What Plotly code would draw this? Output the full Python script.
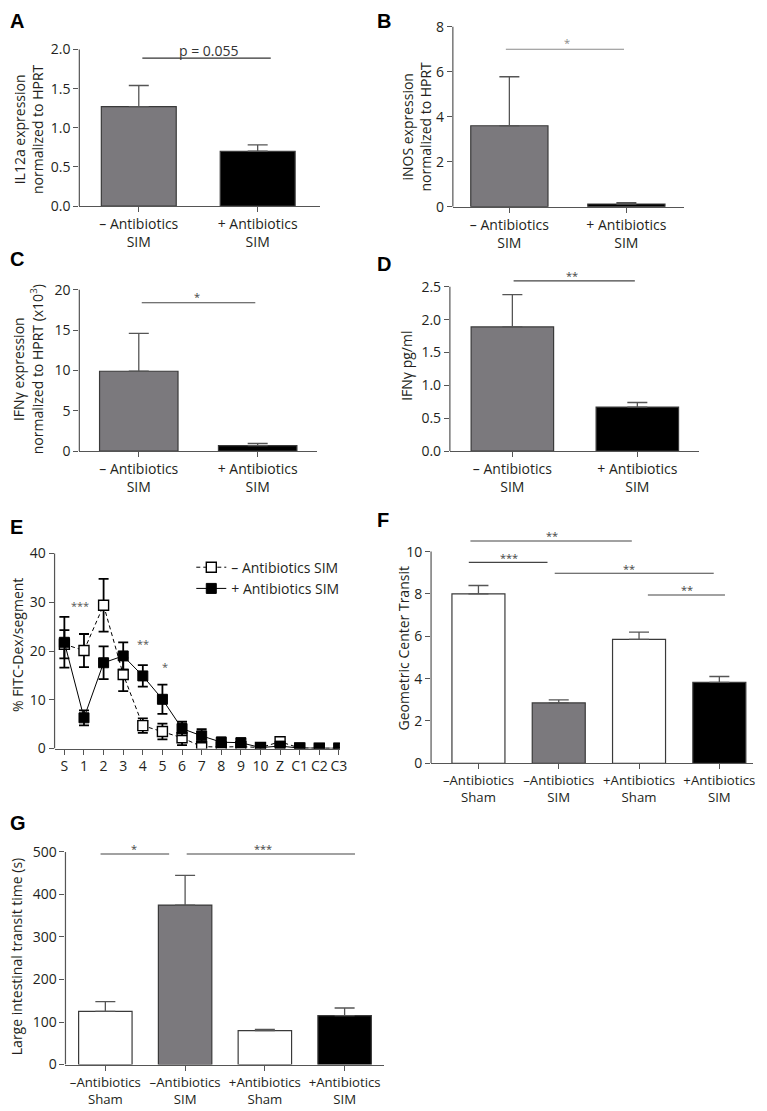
import plotly.graph_objects as go

# The page body has an 8px default margin; positions below are given in
# window pixels and converted to paper fractions of the (smaller) figure.
OFF = 8
WIN_W, WIN_H = 767, 1111
W, H = WIN_W - OFF, WIN_H - OFF
FONT = "Open Sans"
TXT = "#231f20"
AX = "#555555"
GREY = "#7b797d"

# ---------------- data ----------------
two_cats = ["– Antibiotics<br>SIM", "+ Antibiotics<br>SIM"]
two_colors = [GREY, "#000000"]

il12a_mean = [1.27, 0.70]
il12a_sem = [0.27, 0.08]

inos_mean = [3.60, 0.12]
inos_sem = [2.18, 0.06]

ifng_mrna_mean = [9.9, 0.70]
ifng_mrna_sem = [4.7, 0.25]

ifng_prot_mean = [1.89, 0.67]
ifng_prot_sem = [0.49, 0.07]

segments = ["S", "1", "2", "3", "4", "5", "6", "7", "8", "9", "10", "Z", "C1", "C2", "C3"]
fitc_minus_mean = [21.4, 20.1, 29.4, 15.2, 4.7, 3.5, 2.2, 0.4, 0.3, 0.4, 0.2, 1.4, 0.1, 0.05, 0.05]
fitc_minus_sem = [2.9, 3.4, 5.4, 3.4, 1.5, 1.6, 1.5, 0.4, 0.3, 0.3, 0.2, 0.3, 0.1, 0.05, 0.05]
fitc_plus_mean = [21.8, 6.3, 17.6, 19.0, 14.9, 10.1, 4.1, 2.6, 1.3, 1.2, 0.2, 0.5, 0.1, 0.05, 0.05]
fitc_plus_sem = [5.2, 1.55, 3.35, 2.8, 2.2, 3.0, 1.4, 1.4, 1.0, 0.9, 0.4, 0.3, 0.1, 0.05, 0.05]

four_cats = ["–Antibiotics<br>Sham", "–Antibiotics<br>SIM", "+Antibiotics<br>Sham", "+Antibiotics<br>SIM"]
four_colors = ["#ffffff", GREY, "#ffffff", "#000000"]

gc_mean = [8.0, 2.85, 5.85, 3.82]
gc_sem = [0.40, 0.15, 0.35, 0.28]

lit_mean = [125, 375, 80, 115]
lit_sem = [23, 70, 3, 18]

# ---------------- layout helpers ----------------
fig = go.Figure()
layout = dict(
    width=W, height=H, margin=dict(l=0, r=0, t=0, b=0),
    paper_bgcolor="white", plot_bgcolor="white",
    font=dict(family=FONT, size=14, color=TXT),
    showlegend=True,
)
shapes = []
annotations = []


def px(x):
    return (x - OFF) / W


def py(y):
    return 1 - (y - OFF) / H


def ref(n):
    return ("" if n == 1 else str(n))


def setup(n, x0, x1, y0, yt, T, rmax, dtick, xr, fmt, xfont=14):
    s = (y0 - yt) / T
    ytop = y0 - rmax * s
    layout["xaxis" + ref(n)] = dict(
        domain=[px(x0), px(x1)], range=xr, type="category",
        anchor="y" + ref(n), showline=True, linecolor=AX, linewidth=1.2,
        ticks="outside", ticklen=5, tickcolor=AX, tickwidth=1.2,
        showgrid=False, zeroline=False, fixedrange=True,
        tickfont=dict(family=FONT, size=xfont, color=TXT),
    )
    layout["yaxis" + ref(n)] = dict(
        domain=[py(y0), py(ytop)], range=[0, rmax],
        anchor="x" + ref(n), showline=False, dtick=dtick, tick0=0,
        tickformat=fmt, ticks="outside", ticklen=5, tickcolor=AX, tickwidth=1.2,
        showgrid=False, zeroline=False, fixedrange=True,
        tickfont=dict(family=FONT, size=14, color=TXT),
    )
    shapes.append(dict(type="line", xref="x" + ref(n) + " domain", yref="y" + ref(n),
                       x0=0, x1=0, y0=0, y1=T, line=dict(color=AX, width=1.2), layer="above"))


def bars(n, cats, mean, sem, colors, width):
    fig.add_trace(go.Bar(
        x=cats, y=mean, width=width, xaxis="x" + ref(n), yaxis="y" + ref(n),
        marker=dict(color=colors, line=dict(color="#3a3a3a", width=1.2)),
        error_y=dict(type="data", array=sem, arrayminus=[0] * len(sem), symmetric=False,
                     color=AX, thickness=1.3, width=10),
        showlegend=False, hoverinfo="skip",
    ))


def sig(n, xa, xb, y, label, ty, tx=None, color="#444444", size=11):
    shapes.append(dict(type="line", xref="x" + ref(n), yref="y" + ref(n),
                       x0=xa, x1=xb, y0=y, y1=y, line=dict(color=color, width=1.1)))
    if tx is None:
        tx = (xa + xb) / 2
    annotations.append(dict(xref="x" + ref(n), yref="y" + ref(n), x=tx, y=ty, text=label,
                            showarrow=False, font=dict(family=FONT, size=size, color=color)))


def ytitle(xpx, ypx, text, size=14):
    annotations.append(dict(xref="paper", yref="paper", x=px(xpx), y=py(ypx), text=text,
                            textangle=-90, showarrow=False, xanchor="center", yanchor="middle",
                            font=dict(family=FONT, size=size, color=TXT)))


def letter(xpx, cap_top, text):
    # annotation box top sits about 8px above the capital's top
    annotations.append(dict(xref="paper", yref="paper", x=px(xpx), y=py(cap_top - 8),
                            text="<b>%s</b>" % text, showarrow=False,
                            xanchor="left", yanchor="top",
                            font=dict(family="Liberation Sans", size=20, color="#000000")))


# ---------------- A ----------------
setup(1, 80, 323, 201, 42, 2.0, 2.1, 0.5, [-0.5, 1.525], ".1f")
bars(1, two_cats, il12a_mean, il12a_sem, two_colors, 0.63)
sig(1, 0.03, 1.11, 1.89, "p = 0.055", 1.985, tx=0.59, color="#333333", size=14)
ytitle(28, 123, "IL12a expression<br>normalized to HPRT")
letter(8, 8, "A")

# ---------------- B ----------------
setup(2, 457, 690, 201.7, 19, 8, 8.1, 2, [-0.483, 1.49], "d")
bars(2, two_cats, inos_mean, inos_sem, two_colors, 0.66)
sig(2, -0.03, 0.98, 7.0, "*", 7.32, tx=0.49, color="#8a8a8a")
ytitle(420, 120, "iNOS expression<br>normalized to HPRT")
letter(378, 8, "B")

# ---------------- C ----------------
setup(3, 80, 320, 450, 286, 20, 20.5, 5, [-0.5, 1.5], "d")
bars(3, two_cats, ifng_mrna_mean, ifng_mrna_sem, two_colors, 0.66)
sig(3, 0.025, 0.98, 18.38, "*", 19.1, tx=0.49)
ytitle(28, 367, "IFNγ expression<br>normalized to HPRT (x10<sup>3</sup>)")
letter(8, 250, "C")

# ---------------- D ----------------
setup(4, 454, 705, 450, 283, 2.5, 2.75, 0.5, [-0.5, 1.49], ".1f")
bars(4, two_cats, ifng_prot_mean, ifng_prot_sem, two_colors, 0.66)
sig(4, 0.01, 0.98, 2.59, "**", 2.67, tx=0.48)
ytitle(410, 363, "IFNγ pg/ml")
letter(378, 255, "D")

# ---------------- E ----------------
setup(5, 55, 343, 752, 554, 40, 40.5, 10, [-0.5, 14.05], "d")
fig.add_trace(go.Scatter(
    x=segments, y=fitc_minus_mean, xaxis="x5", yaxis="y5", mode="lines+markers",
    name="– Antibiotics SIM",
    line=dict(color="#000000", width=1, dash="4px,3px"),
    marker=dict(symbol="square", size=10, color="#ffffff", line=dict(color="#000000", width=1.4)),
    error_y=dict(type="data", array=fitc_minus_sem, color="#000000", thickness=1.8, width=5),
    hoverinfo="skip",
))
fig.add_trace(go.Scatter(
    x=segments, y=fitc_plus_mean, xaxis="x5", yaxis="y5", mode="lines+markers",
    name="+ Antibiotics SIM",
    line=dict(color="#000000", width=1),
    marker=dict(symbol="square", size=10, color="#000000", line=dict(color="#000000", width=1)),
    error_y=dict(type="data", array=fitc_plus_sem, color="#000000", thickness=1.8, width=5),
    hoverinfo="skip",
))
for lbl, xc, yv in [("***", 0.8, 29.3), ("**", 4.0, 21.6), ("*", 5.15, 16.8)]:
    annotations.append(dict(xref="x5", yref="y5", x=xc, y=yv, text=lbl, showarrow=False,
                            font=dict(family=FONT, size=11, color="#555555")))
ytitle(17, 647, "% FITC-Dex/segment")
letter(8, 522, "E")
layout["legend"] = dict(x=px(193), y=py(552), xanchor="left", yanchor="top",
                        bgcolor="rgba(0,0,0,0)", font=dict(family=FONT, size=14, color=TXT),
                        tracegroupgap=0, itemwidth=30)

# ---------------- F ----------------
setup(6, 435, 760, 767, 552, 10, 10.9, 2, [-0.59, 3.42], "d", xfont=13.2)
bars(6, four_cats, gc_mean, gc_sem, four_colors, 0.66)
sig(6, -0.1, 1.91, 10.5, "**", 10.74, tx=0.91)
sig(6, -0.12, 0.86, 9.49, "***", 9.72, tx=0.38)
sig(6, 0.95, 2.93, 8.98, "**", 9.2, tx=1.88)
sig(6, 2.11, 3.07, 7.95, "**", 8.2, tx=2.6)
ytitle(407, 650, "Geometric Center Transit")
letter(378, 515, "F")

# ---------------- G ----------------
setup(7, 66, 388, 1073, 857, 500, 520, 100, [-0.5, 3.5], "d", xfont=13.2)
bars(7, four_cats, lit_mean, lit_sem, four_colors, 0.67)
sig(7, -0.06, 0.8, 495, "*", 509, tx=0.36)
sig(7, 1.02, 3.13, 495, "***", 509, tx=1.98)
ytitle(16, 963, "Large intestinal transit time (s)")
letter(8, 822, "G")

layout["shapes"] = shapes
layout["annotations"] = annotations
fig.update_layout(**layout)
fig.write_html("out.html")
